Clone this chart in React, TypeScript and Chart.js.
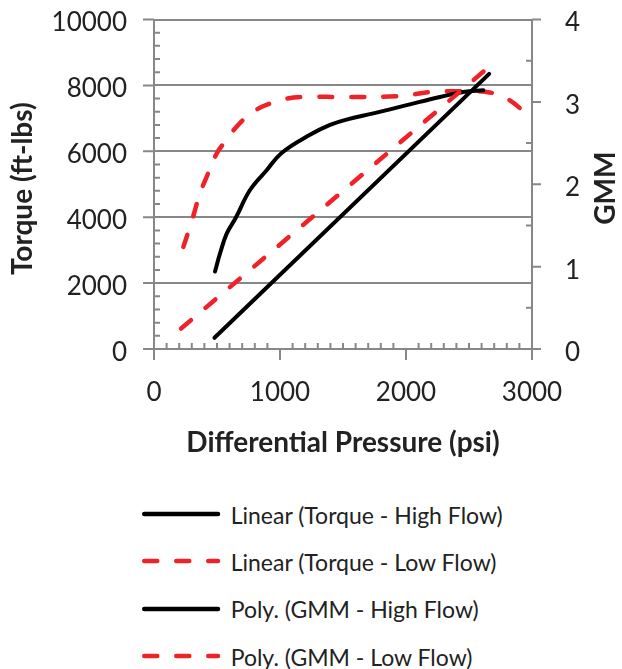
import { useEffect, useRef } from 'react';
import { Chart, registerables } from 'chart.js';

Chart.register(...registerables);

// ---- Data ----
const seriesNames = [
  'Linear (Torque - High Flow)',
  'Linear (Torque - Low Flow)',
  'Poly. (GMM - High Flow)',
  'Poly. (GMM - Low Flow)',
];

const pressureLinHigh = [480, 2660];
const torqueLinHigh = [340, 8350];

const pressureLinLow = [215, 2615];
const torqueLinLow = [620, 8420];

const pressureGmmHigh = [484, 524, 577, 648, 762, 894, 1013, 1238, 1397, 1542, 1741, 2005, 2270, 2455, 2614];
const gmmHigh = [0.94, 1.16, 1.4, 1.59, 1.93, 2.17, 2.38, 2.6, 2.72, 2.79, 2.86, 2.96, 3.06, 3.12, 3.14];

const pressureGmmLow = [233, 272, 307, 365, 418, 500, 577, 656, 788, 921, 1053, 1185, 1556, 1952, 2191, 2402, 2640, 2799, 2971, 3000];
const gmmLow = [1.24, 1.42, 1.59, 1.89, 2.09, 2.38, 2.54, 2.7, 2.88, 2.98, 3.04, 3.06, 3.06, 3.07, 3.12, 3.13, 3.12, 3.04, 2.84, 2.81];

const xTitle = 'Differential Pressure (psi)';
const yTitle = 'Torque (ft-lbs)';
const y1Title = 'GMM';

const xRange = [0, 3000];
const yRange = [0, 10000];
const y1Range = [0, 4];
const xMajor = 1000;
const xMinor = 100;
const yMajor = 2000;
const yMinor = 400;
const y1Major = 1;
const y1Minor = 0.5;

// ---- Styles ----
const RED = '#EE2228';
const BLACK = '#000000';
const GRID = '#878787';
const TEXT = '#222222';
const FONT = 'Lato';
const RED_DASH = [13, 19];
const TITLE_SIZE = 28;
const TICK_SIZE = 26;

const toXY = (xs: number[], ys: number[]) => xs.map((x, i) => ({ x, y: ys[i] }));

const axesPlugin = {
  id: 'excelAxes',
  beforeDatasetsDraw(chart: any) {
    const { ctx, chartArea } = chart;
    const { left, right, top, bottom } = chartArea;
    const sx = chart.scales.x;
    const sy = chart.scales.y;
    const sy1 = chart.scales.y1;
    ctx.save();
    ctx.strokeStyle = GRID;
    ctx.lineWidth = 2;
    ctx.beginPath();
    ctx.moveTo(left, top);
    ctx.lineTo(left, bottom + 1);
    ctx.moveTo(right, top);
    ctx.lineTo(right, bottom + 1);
    ctx.moveTo(left, bottom);
    ctx.lineTo(right, bottom);
    const eps = 1e-6;
    for (let v = xRange[0]; v <= xRange[1] + eps; v += xMinor) {
      const p = sx.getPixelForValue(v);
      const major = Math.abs(v / xMajor - Math.round(v / xMajor)) < eps;
      ctx.moveTo(p, bottom);
      ctx.lineTo(p, major ? bottom + 11 : bottom - 6);
    }
    for (let v = yRange[0]; v <= yRange[1] + eps; v += yMinor) {
      const p = sy.getPixelForValue(v);
      const major = Math.abs(v / yMajor - Math.round(v / yMajor)) < eps;
      ctx.moveTo(left, p);
      ctx.lineTo(major ? left - 11 : left + 6, p);
    }
    for (let v = y1Range[0]; v <= y1Range[1] + eps; v += y1Minor) {
      const p = sy1.getPixelForValue(v);
      const major = Math.abs(v / y1Major - Math.round(v / y1Major)) < eps;
      ctx.moveTo(right, p);
      ctx.lineTo(major ? right + 9 : right - 6, p);
    }
    ctx.stroke();
    ctx.restore();
  },
  afterDraw(chart: any) {
    const { ctx, chartArea } = chart;
    const midY = (chartArea.top + chartArea.bottom) / 2;
    ctx.save();
    ctx.fillStyle = TEXT;
    ctx.font = `bold ${TITLE_SIZE}px ${FONT}`;
    ctx.textAlign = 'center';
    // left title
    ctx.save();
    ctx.textBaseline = 'middle';
    ctx.translate(22.5, midY + 4.5);
    ctx.rotate(-Math.PI / 2);
    ctx.fillText(yTitle, 0, 0);
    ctx.restore();
    // right title
    ctx.save();
    ctx.textBaseline = 'alphabetic';
    ctx.translate(chart.width - 7, midY + 4);
    ctx.rotate(-Math.PI / 2);
    ctx.fillText(y1Title, 0, 0);
    ctx.restore();
    ctx.restore();
  },
};

function LegendSample({ dashed, color }: { dashed: boolean; color: string }) {
  return (
    <svg width={80} height={10} style={{ display: 'block' }}>
      <line
        x1={2.25}
        y1={5}
        x2={76}
        y2={5}
        stroke={color}
        strokeWidth={4.5}
        strokeLinecap="round"
        strokeDasharray={dashed ? RED_DASH.join(' ') : undefined}
      />
    </svg>
  );
}

export default function App() {
  const canvasRef = useRef<HTMLCanvasElement | null>(null);

  useEffect(() => {
    if (!canvasRef.current) return;
    const tickFont = { family: FONT, size: TICK_SIZE };
    const titleFont = { family: FONT, size: TITLE_SIZE, weight: 'bold' as const };
    const plain = (v: any) => String(v);
    const chart = new Chart(canvasRef.current, {
      type: 'scatter',
      data: {
        datasets: [
          {
            label: seriesNames[0],
            data: toXY(pressureLinHigh, torqueLinHigh),
            yAxisID: 'y',
            showLine: true,
            borderColor: BLACK,
            backgroundColor: BLACK,
            borderWidth: 4,
            pointRadius: 0,
            borderCapStyle: 'round',
          },
          {
            label: seriesNames[1],
            data: toXY(pressureLinLow, torqueLinLow),
            yAxisID: 'y',
            showLine: true,
            borderColor: RED,
            backgroundColor: RED,
            borderWidth: 4.5,
            borderDash: RED_DASH,
            borderCapStyle: 'round',
            pointRadius: 0,
          },
          {
            label: seriesNames[2],
            data: toXY(pressureGmmHigh, gmmHigh),
            yAxisID: 'y1',
            showLine: true,
            borderColor: BLACK,
            backgroundColor: BLACK,
            borderWidth: 4,
            tension: 0.4,
            borderCapStyle: 'round',
            borderJoinStyle: 'round',
            pointRadius: 0,
          },
          {
            label: seriesNames[3],
            data: toXY(pressureGmmLow, gmmLow),
            yAxisID: 'y1',
            showLine: true,
            borderColor: RED,
            backgroundColor: RED,
            borderWidth: 4.5,
            borderDash: RED_DASH,
            borderCapStyle: 'round',
            tension: 0.4,
            pointRadius: 0,
          },
        ],
      },
      options: {
        animation: false,
        responsive: true,
        maintainAspectRatio: false,
        layout: { padding: { top: 19.5, left: 0, right: 0, bottom: 0 } },
        plugins: {
          legend: { display: false },
          tooltip: { enabled: false },
        },
        scales: {
          x: {
            type: 'linear',
            position: 'bottom',
            min: xRange[0],
            max: xRange[1],
            ticks: { stepSize: xMajor, padding: 28, font: tickFont, color: TEXT, maxRotation: 0, callback: plain },
            grid: { display: false, drawTicks: false },
            border: { display: false },
            title: { display: true, text: xTitle, font: titleFont, color: TEXT, padding: { top: 0, bottom: 18 } },
            afterFit: (s: any) => {
              s.height = 129;
              s.paddingLeft = 0;
              s.paddingRight = 0;
            },
          },
          y: {
            type: 'linear',
            position: 'left',
            min: yRange[0],
            max: yRange[1],
            ticks: { stepSize: yMajor, padding: 27, labelOffset: 3.5, font: tickFont, color: TEXT, callback: plain },
            grid: { color: GRID, lineWidth: 2, drawTicks: false },
            border: { display: false },
            afterFit: (s: any) => {
              s.width = 154;
              s.paddingTop = 0;
              s.paddingBottom = 0;
            },
          },
          y1: {
            type: 'linear',
            position: 'right',
            min: y1Range[0],
            max: y1Range[1],
            ticks: { stepSize: y1Major, padding: 33, labelOffset: 3.5, font: tickFont, color: TEXT, callback: plain },
            grid: { display: false, drawTicks: false },
            border: { display: false },
            afterFit: (s: any) => {
              s.width = 90;
              s.paddingTop = 0;
              s.paddingBottom = 0;
            },
          },
        },
      },
      plugins: [axesPlugin],
    } as any);
    return () => chart.destroy();
  }, []);

  const rowTop0 = 514;
  const rowStep = 47.3;
  const legendFont = 23;

  return (
    <div style={{ position: 'absolute', left: 0, top: 0, width: 622, height: 669, overflow: 'hidden' }}>
      <div style={{ position: 'absolute', left: 0, top: 0, width: 622, height: 478 }}>
        <canvas ref={canvasRef} />
      </div>
      {seriesNames.map((name, i) => {
        const lineY = rowTop0 + i * rowStep;
        const dashed = i % 2 === 1;
        return (
          <div key={name}>
            <div style={{ position: 'absolute', left: 142, top: lineY - 5 }}>
              <LegendSample dashed={dashed} color={dashed ? RED : BLACK} />
            </div>
            <div
              style={{
                position: 'absolute',
                left: 230.7,
                top: lineY + 2 - 0.529 * legendFont,
                fontFamily: FONT,
                fontSize: legendFont,
                lineHeight: `${legendFont}px`,
                color: TEXT,
                whiteSpace: 'nowrap',
              }}
            >
              {name}
            </div>
          </div>
        );
      })}
    </div>
  );
}
